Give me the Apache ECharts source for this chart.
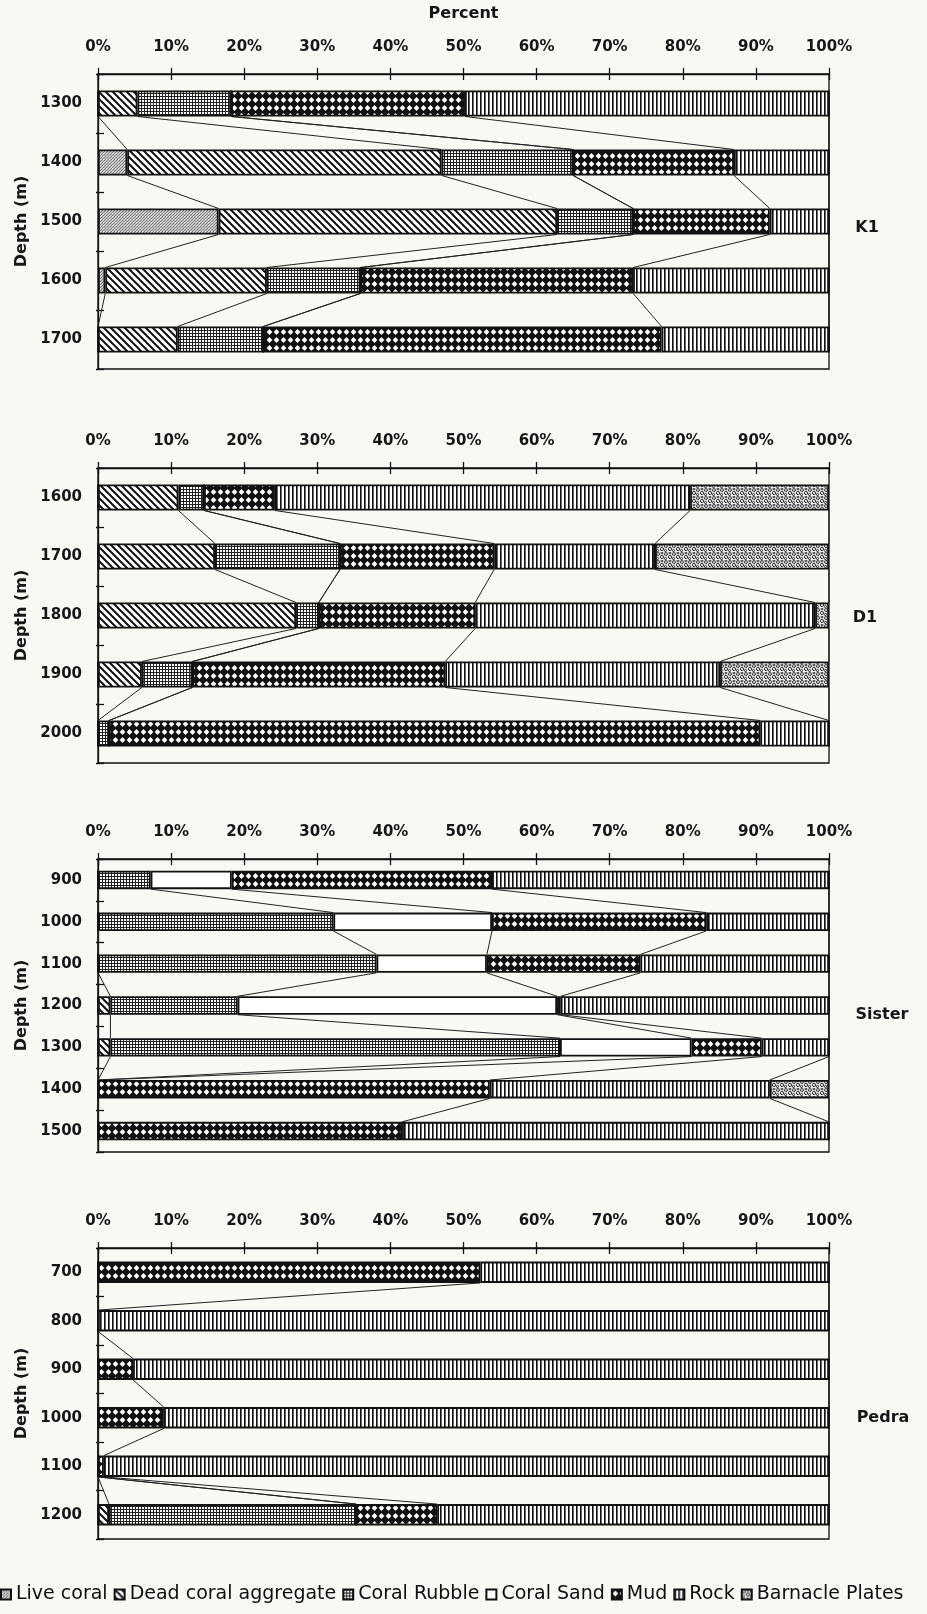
<!DOCTYPE html>
<html>
<head>
<meta charset="utf-8">
<script src="https://cdn.jsdelivr.net/npm/echarts/dist/echarts.min.js"></script>
<style>
  html, body { margin: 0; padding: 0; background: #f9f8f3; }
  #chart { width: 927px; height: 1614px; }
</style>
</head>
<body>
<div id="chart"></div>
<script>
// Substrate composition (%) by depth at four sites
const seriesNames = ['Live coral', 'Dead coral aggregate', 'Coral Rubble', 'Coral Sand', 'Mud', 'Rock', 'Barnacle Plates'];
const percentTicks = [0, 10, 20, 30, 40, 50, 60, 70, 80, 90, 100];

// K1
const k1Depths   = ['1300', '1400', '1500', '1600', '1700'];
const k1Live     = [0, 4, 16.5, 1, 0];
const k1Dead     = [5.4, 43, 46.3, 22.1, 10.9];
const k1Rubble   = [12.8, 18, 10.4, 12.8, 11.7];
const k1Sand     = [0, 0, 0, 0, 0];
const k1Mud      = [32, 22, 18.7, 37.3, 54.5];
const k1Rock     = [49.8, 13, 8.1, 26.8, 22.9];
const k1Barnacle = [0, 0, 0, 0, 0];

// D1
const d1Depths   = ['1600', '1700', '1800', '1900', '2000'];
const d1Live     = [0, 0, 0, 0, 0];
const d1Dead     = [11, 16, 27.1, 6, 0];
const d1Rubble   = [3.5, 17.1, 3.1, 6.9, 1.5];
const d1Sand     = [0, 0, 0, 0, 0];
const d1Mud      = [9.7, 21.1, 21.4, 34.6, 89.1];
const d1Rock     = [56.8, 22, 46.5, 37.6, 9.4];
const d1Barnacle = [19, 23.8, 1.9, 14.9, 0];

// Sister
const siDepths   = ['900', '1000', '1100', '1200', '1300', '1400', '1500'];
const siLive     = [0, 0, 0, 0, 0, 0, 0];
const siDead     = [0, 0, 0, 1.7, 1.7, 0, 0];
const siRubble   = [7.2, 32.2, 38.1, 17.4, 61.5, 0, 0];
const siSand     = [11.1, 21.7, 15.1, 43.7, 18, 0, 0];
const siMud      = [35.6, 29.3, 21, 0.5, 9.6, 53.6, 41.6];
const siRock     = [46.1, 16.8, 25.8, 36.7, 9.2, 38.3, 58.4];
const siBarnacle = [0, 0, 0, 0, 0, 8.1, 0];

// Pedra
const peDepths   = ['700', '800', '900', '1000', '1100', '1200'];
const peLive     = [0, 0, 0, 0, 0, 0];
const peDead     = [0, 0, 0, 0, 0, 1.5];
const peRubble   = [0, 0, 0, 0, 0, 33.8];
const peSand     = [0, 0, 0, 0, 0, 0];
const peMud      = [52.3, 0, 4.8, 9, 0.8, 11.1];
const peRock     = [47.7, 100, 95.2, 91, 99.2, 53.6];
const peBarnacle = [0, 0, 0, 0, 0, 0];

// ---- fill patterns (one per substrate) ----
function tile(w, h, draw) {
  const c = document.createElement('canvas');
  c.width = w; c.height = h;
  const g = c.getContext('2d');
  draw(g, w, h);
  return { image: c, repeat: 'repeat' };
}
const patterns = [
  // live coral: grey stipple
  tile(3, 3, (g) => {
    g.fillStyle = '#c6c6c6'; g.fillRect(0, 0, 3, 3);
    g.fillStyle = '#7c7c7c'; g.fillRect(0, 0, 1, 1); g.fillRect(2, 1, 1, 1); g.fillRect(1, 2, 1, 1);
    g.fillStyle = '#e6e6e6'; g.fillRect(1, 0, 1, 1);
  }),
  // dead coral aggregate: diagonal hatching
  tile(7, 7, (g) => {
    g.fillStyle = '#ffffff'; g.fillRect(0, 0, 7, 7);
    g.strokeStyle = '#111'; g.lineWidth = 2;
    [-7, 0, 7].forEach((dx) => {
      g.beginPath(); g.moveTo(dx - 1, -1); g.lineTo(dx + 8, 8); g.stroke();
    });
  }),
  // coral rubble: fine grid
  tile(3, 3, (g) => {
    g.fillStyle = '#ffffff'; g.fillRect(0, 0, 3, 3);
    g.fillStyle = '#222'; g.fillRect(0, 0, 3, 1); g.fillRect(0, 0, 1, 3);
  }),
  // coral sand: plain
  '#ffffff',
  // mud: dark lattice with white diamonds
  tile(7, 8, (g) => {
    g.fillStyle = '#111'; g.fillRect(0, 0, 7, 8);
    g.fillStyle = '#ffffff';
    g.beginPath();
    g.moveTo(3.5, 0.9); g.lineTo(6.3, 4); g.lineTo(3.5, 7.1); g.lineTo(0.7, 4); g.closePath();
    g.fill();
  }),
  // rock: vertical lines
  tile(4, 1, (g) => {
    g.fillStyle = '#ffffff'; g.fillRect(0, 0, 4, 1);
    g.fillStyle = '#111'; g.fillRect(0, 0, 1, 1);
    g.fillStyle = '#666'; g.fillRect(1, 0, 1, 1);
  }),
  // barnacle plates: speckle
  tile(8, 8, (g) => {
    g.fillStyle = '#ececec'; g.fillRect(0, 0, 8, 8);
    g.strokeStyle = '#333'; g.lineWidth = 1;
    [[2, 2, 1.5], [6, 5, 1.6], [1.5, 6.5, 1.1], [6, 1, 1]].forEach(([x, y, r]) => {
      g.beginPath(); g.arc(x, y, r, 0, Math.PI * 2); g.stroke();
    });
  })
];

const panels = [
  { depths: k1Depths, values: [k1Live, k1Dead, k1Rubble, k1Sand, k1Mud, k1Rock, k1Barnacle],
    site: 'K1', top: 74, height: 295, siteX: 867, siteY: 228 },
  { depths: d1Depths, values: [d1Live, d1Dead, d1Rubble, d1Sand, d1Mud, d1Rock, d1Barnacle],
    site: 'D1', top: 468, height: 295, siteX: 865, siteY: 618 },
  { depths: siDepths, values: [siLive, siDead, siRubble, siSand, siMud, siRock, siBarnacle],
    site: 'Sister', top: 859, height: 293, siteX: 882, siteY: 1015 },
  { depths: peDepths, values: [peLive, peDead, peRubble, peSand, peMud, peRock, peBarnacle],
    site: 'Pedra', top: 1248, height: 291, siteX: 883, siteY: 1418 }
];

const BAR_RATIO = 0.44;
const INK = '#111';
const TEXT = '#161616';
const FONT = 'DejaVu Sans';

const grid = [], xAxis = [], yAxis = [], series = [], graphic = [];

panels.forEach((p, pi) => {
  const gMain = pi * 2, gTick = pi * 2 + 1;
  grid.push({ left: 98, width: 731, top: p.top, height: p.height, show: true,
              borderColor: INK, borderWidth: 1.3, backgroundColor: 'transparent' });
  grid.push({ left: 98, width: 731, top: p.top, height: p.height, show: false });

  xAxis.push({
    type: 'value', gridIndex: gMain, position: 'top', min: percentTicks[0],
    max: percentTicks[percentTicks.length - 1], interval: percentTicks[1] - percentTicks[0],
    axisLine: { show: true, lineStyle: { color: INK, width: 1.3 } },
    axisTick: { show: true, length: 6, lineStyle: { color: INK, width: 1.3 } },
    axisLabel: { formatter: '{value}%', margin: 19, fontFamily: FONT, fontWeight: 'bold', fontSize: 15, color: TEXT },
    splitLine: { show: false },
    name: pi === 0 ? 'Percent' : '', nameLocation: 'middle', nameGap: 52,
    nameTextStyle: { fontFamily: FONT, fontWeight: 'bold', fontSize: 16, color: TEXT }
  });
  xAxis.push({
    type: 'value', gridIndex: gTick, position: 'top', min: 0, max: 100, interval: 10,
    axisLine: { show: false },
    axisTick: { show: true, inside: true, length: 6, lineStyle: { color: INK, width: 1.3 } },
    axisLabel: { show: false }, splitLine: { show: false }
  });

  yAxis.push({
    type: 'category', gridIndex: gMain, data: p.depths, inverse: true,
    axisLine: { show: true, lineStyle: { color: INK, width: 1.3 } },
    axisTick: { show: true, length: 2, lineStyle: { color: INK, width: 1.3 } },
    axisLabel: { margin: 16, fontFamily: FONT, fontWeight: 'bold', fontSize: 15, color: TEXT },
    name: 'Depth (m)', nameLocation: 'middle', nameRotate: 90, nameGap: 68,
    nameTextStyle: { fontFamily: FONT, fontWeight: 'bold', fontSize: 16, color: TEXT }
  });
  yAxis.push({
    type: 'category', gridIndex: gTick, data: p.depths, inverse: true,
    axisLine: { show: false },
    axisTick: { show: true, inside: true, length: 6, lineStyle: { color: INK, width: 1.3 } },
    axisLabel: { show: false }
  });

  p.values.forEach((vals, si) => {
    series.push({
      type: 'bar', name: seriesNames[si], xAxisIndex: gMain, yAxisIndex: gMain,
      stack: 'site' + pi, barWidth: (BAR_RATIO * 100) + '%', data: vals,
      itemStyle: { color: patterns[si], borderColor: INK, borderWidth: 1.8 },
      emphasis: { disabled: true }
    });
  });

  // connector lines between the cumulative boundaries of adjacent bars
  const links = [];
  const cum = p.depths.map(() => 0);
  p.values.forEach((vals) => {
    vals.forEach((v, i) => { cum[i] += v; });
    for (let i = 0; i < p.depths.length - 1; i++) {
      links.push([cum[i], cum[i + 1], i, i + 1]);
    }
  });
  series.push({
    type: 'custom', name: 'connectors', xAxisIndex: gMain, yAxisIndex: gMain, silent: true,
    encode: { x: [0, 1], y: [2, 3] }, data: links, z: 1,
    renderItem: (params, api) => {
      const a = api.coord([api.value(0), api.value(2)]);
      const b = api.coord([api.value(1), api.value(3)]);
      const half = api.size([0, 1])[1] * BAR_RATIO / 2;
      return { type: 'line', shape: { x1: a[0], y1: a[1] + half, x2: b[0], y2: b[1] - half },
               style: { stroke: '#222', lineWidth: 1 } };
    }
  });

  graphic.push({ type: 'text', x: p.siteX, y: p.siteY,
    style: { text: p.site, fill: TEXT, font: 'bold 16px "DejaVu Sans"', align: 'center', verticalAlign: 'middle' } });
});

const chart = echarts.init(document.getElementById('chart'), null, { renderer: 'canvas' });
chart.setOption({
  animation: false,
  backgroundColor: '#f9f8f3',
  grid, xAxis, yAxis, series, graphic,
  legend: {
    data: seriesNames, left: 0, top: 1585, width: 927, padding: 0, itemGap: 6,
    itemWidth: 10, itemHeight: 10, icon: 'rect', selectedMode: false,
    textStyle: { fontFamily: FONT, fontSize: 19, color: '#0e0e0e' }
  }
});
</script>
</body>
</html>
